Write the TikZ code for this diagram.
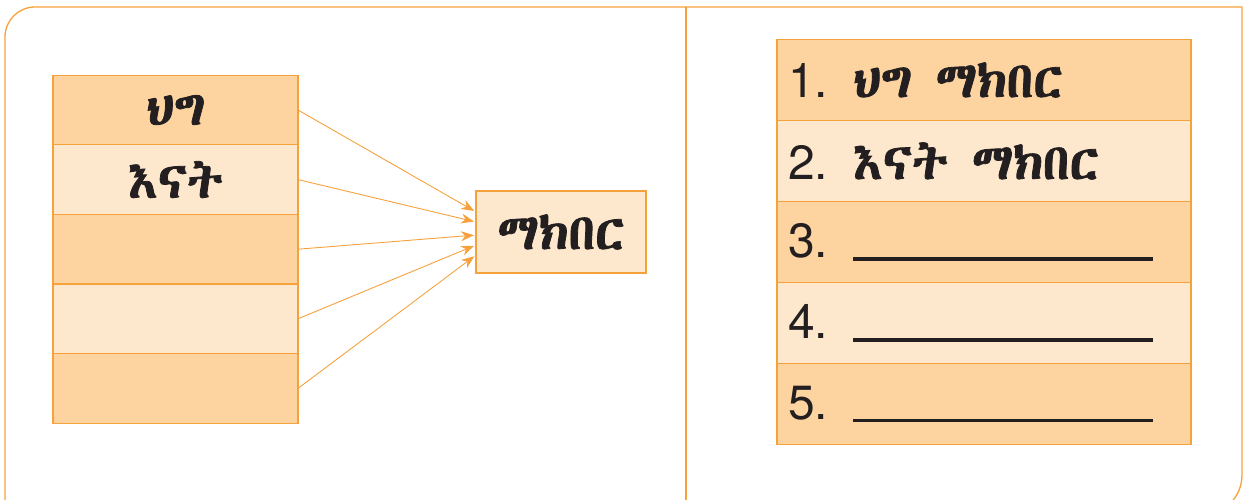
\documentclass[tikz,border=0pt]{standalone}
\usepackage{fontspec}
\setmainfont{TeX Gyre Heros}
\newfontfamily\ethfont[Script=Ethiopic, FakeBold=1.6]{Abyssinica SIL}
\usetikzlibrary{arrows.meta}

\definecolor{lineorange}{HTML}{F6A23C}
\definecolor{darkfill}{HTML}{FDD3A0}
\definecolor{lightfill}{HTML}{FEE8CD}
\definecolor{inkgray}{HTML}{231F20}

\begin{document}
\begin{tikzpicture}[x=1pt, y=1pt,
    darkcell/.style = {draw=lineorange, line width=1.2pt, fill=darkfill, outer sep=0pt},
    lightcell/.style = {draw=lineorange, line width=1.2pt, fill=lightfill, outer sep=0pt},
    leftcell/.style = {minimum width=245pt, minimum height=69.6pt, inner sep=0pt, text=inkgray, font=\fontsize{50}{52}\selectfont\ethfont},
    rightcell/.style = {minimum height=81pt, text width=392pt, inner xsep=11pt, inner ysep=0pt, align=left, text=inkgray, font=\fontsize{48}{50}\selectfont},
    arrowline/.style = {draw=lineorange, line width=0.9pt, -{Stealth[length=13pt, width=10pt]}, shorten >=2pt}]
	\useasboundingbox (0,0) rectangle (1244,500);
	% frame
	\draw[lineorange, line width=1.3pt] (5,-40) -- (5,463) arc[start angle=180, end angle=90, radius=30]
		-- (1242,493) -- (1242,25) arc[start angle=0, end angle=-90, radius=40] -- (1100,-15);
	\draw[lineorange, line width=1.3pt] (686,493) -- (686,-5);
	% left table
	\begin{scope}[node distance=69.6pt]
		\node[darkcell, leftcell] (l1) at (175.5,390) {ህግ};
		\node[lightcell, leftcell] (l2) [below of=l1] {እናት};
		\node[darkcell, leftcell] (l3) [below of=l2] {};
		\node[lightcell, leftcell] (l4) [below of=l3] {};
		\node[darkcell, leftcell] (l5) [below of=l4] {};
	\end{scope}
	\node[lightcell, minimum width=170pt, minimum height=82pt, text=inkgray, font=\fontsize{50}{52}\selectfont\ethfont] (m) at (561,268) {ማክበር};
	\draw[arrowline] (l1.east) -- ([yshift=20pt]m.west);
	\draw[arrowline] (l2.east) -- ([yshift=10pt]m.west);
	\draw[arrowline] (l3.east) -- ([yshift=-3pt]m.west);
	\draw[arrowline] (l4.east) -- ([yshift=-13pt]m.west);
	\draw[arrowline] (l5.east) -- ([yshift=-23pt]m.west);
	% right table
	\begin{scope}[node distance=81pt]
		\node[darkcell, rightcell] (r1) at (984,420) {1.\hspace{25pt}{\fontsize{50}{52}\selectfont\ethfont ህግ\hspace{24pt}ማክበር}};
		\node[lightcell, rightcell] (r2) [below of=r1] {2.\hspace{25pt}{\fontsize{50}{52}\selectfont\ethfont እናት\hspace{24pt}ማክበር}};
		\node[darkcell, rightcell] (r3) [below of=r2] {3.\hspace{25pt}\rule[-3pt]{300pt}{3.5pt}};
		\node[lightcell, rightcell] (r4) [below of=r3] {4.\hspace{25pt}\rule[-3pt]{300pt}{3.5pt}};
		\node[darkcell, rightcell] (r5) [below of=r4] {5.\hspace{25pt}\rule[-3pt]{300pt}{3.5pt}};
	\end{scope}
\end{tikzpicture}
\end{document}
